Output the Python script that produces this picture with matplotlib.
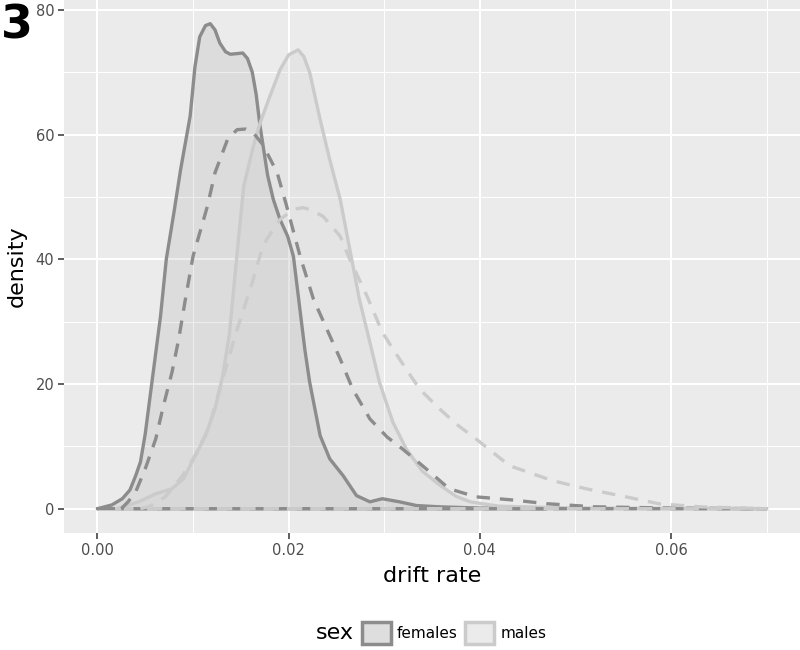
import matplotlib
matplotlib.use("Agg")
import matplotlib.pyplot as plt
from matplotlib.patches import Patch

# female, solid density
fem_x = [0.0000, 0.0015, 0.0026, 0.0034, 0.0040, 0.0045, 0.0050, 0.0057, 0.0066, 0.0072,
         0.0080, 0.0087, 0.0097, 0.0102, 0.0107, 0.0113, 0.0118, 0.0123, 0.0128, 0.0134,
         0.0139, 0.0146, 0.0152, 0.0157, 0.0162, 0.0166, 0.0170, 0.0174, 0.0178, 0.0184,
         0.0191, 0.0199, 0.0205, 0.0209, 0.0213, 0.0217, 0.0222, 0.0233, 0.0243, 0.0257,
         0.0271, 0.0285, 0.0298, 0.0316, 0.0334, 0.0358, 0.0400, 0.0450, 0.0470]
fem_y = [0.0, 0.6, 1.6, 3.0, 5.3, 7.5, 12.0, 20.3, 30.9, 40.0,
         47.5, 54.4, 63.0, 70.9, 75.7, 77.5, 77.8, 76.8, 74.7, 73.3,
         72.9, 73.0, 73.1, 72.2, 70.0, 66.5, 61.5, 57.5, 53.5, 49.6,
         46.4, 43.7, 40.5, 35.5, 30.5, 25.5, 20.3, 11.7, 8.0, 5.3,
         2.1, 1.1, 1.6, 1.1, 0.5, 0.3, 0.1, 0.0, 0.0]

# female, dashed density
fem2_x = [0.0025, 0.0032, 0.0040, 0.0050, 0.0061, 0.0069, 0.0078, 0.0085, 0.0092, 0.0100,
          0.0115, 0.0123, 0.0136, 0.0146, 0.0155, 0.0163, 0.0173, 0.0188, 0.0198, 0.0212,
          0.0226, 0.0240, 0.0254, 0.0267, 0.0285, 0.0303, 0.0319, 0.0340, 0.0368, 0.0396,
          0.0434, 0.0470, 0.0520, 0.0600, 0.0700]
fem2_y = [0.0, 1.1, 2.7, 6.4, 11.2, 16.5, 21.9, 27.2, 33.6, 40.5,
          48.5, 53.9, 59.2, 60.8, 60.9, 60.3, 58.4, 53.9, 48.5, 40.5,
          33.6, 28.8, 24.0, 19.2, 14.4, 11.5, 9.6, 6.9, 3.2, 1.9,
          1.4, 0.8, 0.3, 0.1, 0.0]

# male, solid density
mal_x = [0.0020, 0.0026, 0.0043, 0.0061, 0.0078, 0.0090, 0.0099, 0.0113, 0.0123, 0.0131,
         0.0138, 0.0143, 0.0148, 0.0153, 0.0163, 0.0170, 0.0180, 0.0191, 0.0200, 0.0210,
         0.0216, 0.0222, 0.0233, 0.0243, 0.0254, 0.0264, 0.0274, 0.0285, 0.0295, 0.0309,
         0.0323, 0.0340, 0.0358, 0.0375, 0.0390, 0.0420, 0.0500, 0.0700]
mal_y = [0.0, 0.3, 1.1, 2.4, 3.2, 4.8, 7.5, 11.7, 16.0, 21.3,
         28.0, 36.0, 44.0, 51.7, 58.1, 61.8, 66.0, 70.4, 72.8, 73.6,
         72.5, 70.0, 62.4, 56.0, 49.6, 41.6, 33.6, 26.7, 20.3, 13.9,
         9.6, 6.0, 3.8, 2.0, 1.1, 0.4, 0.1, 0.0]

# male, dashed density
mal2_x = [0.0045, 0.0055, 0.0071, 0.0089, 0.0102, 0.0116, 0.0126, 0.0134, 0.0144, 0.0154,
          0.0162, 0.0172, 0.0177, 0.0191, 0.0205, 0.0215, 0.0222, 0.0236, 0.0254, 0.0264,
          0.0282, 0.0298, 0.0316, 0.0337, 0.0358, 0.0376, 0.0396, 0.0431, 0.0476, 0.0511,
          0.0553, 0.0587, 0.0630, 0.0700]
mal2_y = [0.0, 0.4, 1.9, 5.3, 8.5, 12.8, 18.1, 22.4, 27.7, 32.5,
          36.3, 41.6, 43.2, 46.4, 48.0, 48.3, 48.0, 46.9, 43.7, 40.0,
          34.1, 28.3, 24.0, 19.2, 16.0, 13.5, 11.2, 6.9, 4.5, 3.2,
          1.9, 0.8, 0.3, 0.0]

groups = ["females", "males"]
dark = "#8C8C8C"
light = "#CBCBCB"

fig = plt.figure(figsize=(8, 6.5), dpi=100)
ax = fig.add_axes([0.08, 0.18, 0.92, 0.82])
ax.set_facecolor("#EBEBEB")
for s in ax.spines.values():
    s.set_visible(False)

ax.set_xlim(-0.0035, 0.0735)
ax.set_ylim(-3.9, 81.6)
ax.set_xticks([0.0, 0.02, 0.04, 0.06])
ax.set_xticklabels(["0.00", "0.02", "0.04", "0.06"])
ax.set_yticks([0, 20, 40, 60, 80])
ax.set_xticks([0.01, 0.03, 0.05, 0.07], minor=True)
ax.set_yticks([10, 30, 50, 70], minor=True)
ax.grid(True, which="major", color="white", lw=1.5)
ax.grid(True, which="minor", color="white", lw=0.7)
ax.set_axisbelow(True)
ax.tick_params(which="major", length=4, width=1.1, color="#333333",
               labelcolor="#4D4D4D", labelsize=10.5, pad=3)
ax.tick_params(which="minor", length=0)


def density(x, y, col, fill, alpha, ls):
    # outline goes round the whole polygon, baseline included
    if fill:
        ax.fill_between(x, y, 0, color=col, alpha=alpha, lw=0)
    ax.plot(x + x[::-1][:1] + x[:1], y + [0, 0], color=col, lw=2.4, ls=ls,
            solid_capstyle="round", dash_capstyle="butt", solid_joinstyle="round")


dash = (0, (4, 3))
density(fem_x, fem_y, dark, True, 0.15, "-")
density(mal_x, mal_y, light, True, 0.2, "-")
density(fem2_x, fem2_y, dark, False, 0, dash)
density(mal2_x, mal2_y, light, False, 0, dash)

ax.set_xlabel("drift rate", fontsize=16, labelpad=6)
ax.set_ylabel("density", fontsize=16, labelpad=6)

fig.text(0.001, 0.995, "3", fontsize=33, fontweight="bold", ha="left", va="top")

handles = [Patch(facecolor="#DEDEDE", edgecolor=dark, lw=2.5, label=groups[0]),
           Patch(facecolor="#EBEBEB", edgecolor=light, lw=2.5, label=groups[1])]
fig.text(0.395, 0.026, "sex", fontsize=16, ha="left", va="center")
fig.legend(handles=handles, loc="center left", bbox_to_anchor=(0.452, 0.026), ncol=2,
           frameon=False, fontsize=11, handlelength=1.9, handleheight=1.9,
           handletextpad=0.4, columnspacing=0.5, borderpad=0, borderaxespad=0)

fig.savefig("out.png", dpi=100)
